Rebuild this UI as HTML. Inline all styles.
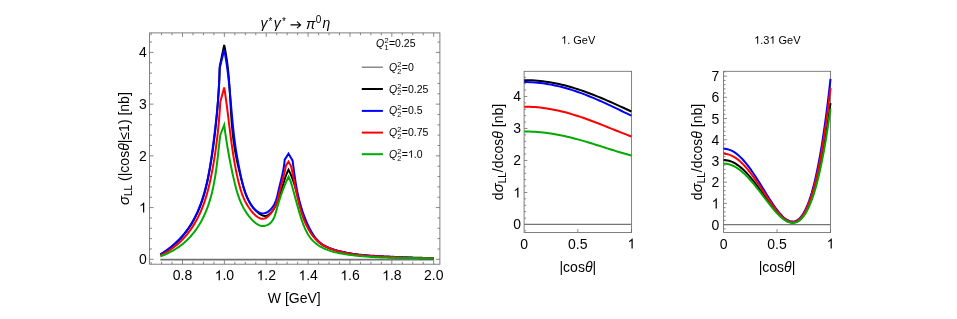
<!DOCTYPE html>
<html><head><meta charset="utf-8"><title>plot</title>
<style>html,body{margin:0;padding:0;background:#fff}body{width:957px;height:319px;overflow:hidden;position:relative;font-family:"Liberation Sans",sans-serif}svg{will-change:transform}</style>
</head><body>
<svg width="957" height="319" viewBox="0 0 957 319" style="position:absolute;left:0;top:0">
<rect width="957" height="319" fill="#fff"/>
<path d="M151.1 264.2L151.1 261.8 M151.1 32.9L151.1 35.3 M161.57 264.2L161.57 261.8 M161.57 32.9L161.57 35.3 M172.03 264.2L172.03 261.8 M172.03 32.9L172.03 35.3 M182.5 264.2L182.5 260.2 M182.5 32.9L182.5 36.9 M192.97 264.2L192.97 261.8 M192.97 32.9L192.97 35.3 M203.43 264.2L203.43 261.8 M203.43 32.9L203.43 35.3 M213.9 264.2L213.9 261.8 M213.9 32.9L213.9 35.3 M224.37 264.2L224.37 260.2 M224.37 32.9L224.37 36.9 M234.83 264.2L234.83 261.8 M234.83 32.9L234.83 35.3 M245.3 264.2L245.3 261.8 M245.3 32.9L245.3 35.3 M255.77 264.2L255.77 261.8 M255.77 32.9L255.77 35.3 M266.23 264.2L266.23 260.2 M266.23 32.9L266.23 36.9 M276.7 264.2L276.7 261.8 M276.7 32.9L276.7 35.3 M287.17 264.2L287.17 261.8 M287.17 32.9L287.17 35.3 M297.63 264.2L297.63 261.8 M297.63 32.9L297.63 35.3 M308.1 264.2L308.1 260.2 M308.1 32.9L308.1 36.9 M318.56 264.2L318.56 261.8 M318.56 32.9L318.56 35.3 M329.03 264.2L329.03 261.8 M329.03 32.9L329.03 35.3 M339.5 264.2L339.5 261.8 M339.5 32.9L339.5 35.3 M349.96 264.2L349.96 260.2 M349.96 32.9L349.96 36.9 M360.43 264.2L360.43 261.8 M360.43 32.9L360.43 35.3 M370.9 264.2L370.9 261.8 M370.9 32.9L370.9 35.3 M381.36 264.2L381.36 261.8 M381.36 32.9L381.36 35.3 M391.83 264.2L391.83 260.2 M391.83 32.9L391.83 36.9 M402.3 264.2L402.3 261.8 M402.3 32.9L402.3 35.3 M412.76 264.2L412.76 261.8 M412.76 32.9L412.76 35.3 M423.23 264.2L423.23 261.8 M423.23 32.9L423.23 35.3 M433.7 264.2L433.7 260.2 M433.7 32.9L433.7 36.9 M149.6 259.3L153.6 259.3 M439.9 259.3L435.9 259.3 M149.6 248.96L152 248.96 M439.9 248.96L437.5 248.96 M149.6 238.61L152 238.61 M439.9 238.61L437.5 238.61 M149.6 228.27L152 228.27 M439.9 228.27L437.5 228.27 M149.6 217.92L152 217.92 M439.9 217.92L437.5 217.92 M149.6 207.58L153.6 207.58 M439.9 207.58L435.9 207.58 M149.6 197.24L152 197.24 M439.9 197.24L437.5 197.24 M149.6 186.89L152 186.89 M439.9 186.89L437.5 186.89 M149.6 176.55L152 176.55 M439.9 176.55L437.5 176.55 M149.6 166.2L152 166.2 M439.9 166.2L437.5 166.2 M149.6 155.86L153.6 155.86 M439.9 155.86L435.9 155.86 M149.6 145.52L152 145.52 M439.9 145.52L437.5 145.52 M149.6 135.17L152 135.17 M439.9 135.17L437.5 135.17 M149.6 124.83L152 124.83 M439.9 124.83L437.5 124.83 M149.6 114.48L152 114.48 M439.9 114.48L437.5 114.48 M149.6 104.14L153.6 104.14 M439.9 104.14L435.9 104.14 M149.6 93.8L152 93.8 M439.9 93.8L437.5 93.8 M149.6 83.45L152 83.45 M439.9 83.45L437.5 83.45 M149.6 73.11L152 73.11 M439.9 73.11L437.5 73.11 M149.6 62.76L152 62.76 M439.9 62.76L437.5 62.76 M149.6 52.42L153.6 52.42 M439.9 52.42L435.9 52.42 M149.6 42.08L152 42.08 M439.9 42.08L437.5 42.08" stroke="#6a6a6a" stroke-width="0.8" fill="none"/>
<g fill="none" stroke-width="2.0" stroke-linejoin="miter" stroke-linecap="butt">
<path d="M160.3 259.6L433.7 259.6" stroke="#707070" stroke-width="1.8"/>
<path d="M160.3 254.6 L161.59 253.82 L162.87 253.02 L164.13 252.2 L165.38 251.36 L166.61 250.51 L167.83 249.64 L169.03 248.75 L170.22 247.85 L171.39 246.92 L172.54 245.98 L173.67 245.02 L174.79 244.04 L175.9 243.04 L176.98 242.03 L178.05 240.99 L179.1 239.94 L180.13 238.87 L181.14 237.78 L182.14 236.67 L183.11 235.55 L184.07 234.4 L185 233.24 L185.92 232.06 L186.82 230.86 L187.7 229.65 L188.56 228.42 L189.4 227.17 L190.23 225.92 L191.03 224.64 L191.82 223.36 L192.58 222.06 L193.33 220.75 L194.06 219.44 L194.77 218.11 L195.46 216.77 L196.14 215.42 L196.79 214.06 L197.43 212.7 L198.05 211.33 L198.65 209.95 L199.23 208.57 L199.79 207.19 L200.34 205.8 L200.86 204.4 L201.37 203 L201.87 201.6 L202.34 200.2 L202.8 198.79 L203.25 197.38 L203.68 195.97 L204.09 194.55 L204.5 193.13 L204.89 191.71 L205.26 190.28 L205.63 188.85 L205.99 187.42 L206.33 185.99 L206.67 184.55 L206.99 183.11 L207.31 181.67 L207.62 180.22 L207.92 178.77 L208.21 177.32 L208.5 175.87 L208.78 174.42 L209.06 172.96 L209.33 171.5 L209.59 170.04 L209.85 168.58 L210.11 167.11 L210.37 165.64 L210.61 164.17 L210.86 162.7 L211.1 161.23 L211.33 159.76 L211.57 158.28 L211.79 156.8 L212.02 155.32 L212.24 153.84 L212.46 152.36 L212.67 150.88 L212.88 149.39 L213.09 147.91 L213.29 146.42 L213.49 144.93 L213.69 143.44 L213.88 141.95 L214.07 140.46 L214.26 138.97 L214.45 137.48 L214.63 135.98 L214.81 134.49 L214.98 132.99 L215.15 131.5 L215.32 130 L215.49 128.5 L215.65 127.01 L215.81 125.51 L215.97 124.01 L216.12 122.51 L216.27 121.02 L216.42 119.52 L216.56 118.02 L216.71 116.52 L216.84 115.02 L216.98 113.52 L217.11 112.03 L217.24 110.53 L217.37 109.03 L217.49 107.53 L217.61 106.04 L217.73 104.54 L217.85 103.05 L217.96 101.55 L218.07 100.06 L218.17 98.56 L218.28 97.07 L218.38 95.58 L218.48 94.09 L218.57 92.6 L218.66 91.11 L218.75 89.62 L218.84 88.13 L218.92 86.65 L219 85.16 L219.08 83.68 L219.16 82.2 L219.23 80.72 L219.3 79.24 L219.36 77.76 L219.43 76.28 L219.49 74.81 L219.55 73.34 L219.6 71.86 L219.66 70.4 L219.71 68.93 L219.75 67.46 L219.8 66 L219.8 66 L224.2 44.9 L224.2 44.9 L224.51 46.39 L224.81 47.87 L225.09 49.36 L225.37 50.84 L225.63 52.33 L225.88 53.82 L226.13 55.31 L226.36 56.79 L226.58 58.28 L226.8 59.77 L227.01 61.26 L227.2 62.75 L227.39 64.24 L227.57 65.73 L227.75 67.21 L227.92 68.7 L228.08 70.19 L228.23 71.68 L228.38 73.17 L228.52 74.66 L228.65 76.15 L228.78 77.64 L228.91 79.13 L229.03 80.63 L229.14 82.12 L229.25 83.61 L229.36 85.1 L229.46 86.59 L229.56 88.08 L229.66 89.57 L229.76 91.06 L229.85 92.55 L229.94 94.04 L230.03 95.53 L230.12 97.02 L230.21 98.51 L230.29 100 L230.38 101.49 L230.46 102.98 L230.55 104.47 L230.64 105.96 L230.72 107.45 L230.81 108.94 L230.9 110.43 L231 111.92 L231.09 113.4 L231.19 114.89 L231.29 116.38 L231.39 117.87 L231.49 119.36 L231.6 120.84 L231.72 122.33 L231.83 123.81 L231.96 125.3 L232.08 126.79 L232.22 128.27 L232.36 129.76 L232.5 131.24 L232.65 132.72 L232.81 134.21 L232.97 135.69 L233.14 137.17 L233.32 138.66 L233.51 140.14 L233.7 141.62 L233.9 143.1 L234.11 144.58 L234.33 146.06 L234.56 147.54 L234.8 149.01 L235.05 150.49 L235.31 151.97 L235.57 153.45 L235.85 154.92 L236.13 156.4 L236.42 157.87 L236.72 159.34 L237.02 160.82 L237.34 162.29 L237.65 163.76 L237.98 165.23 L238.31 166.7 L238.65 168.17 L238.99 169.64 L239.34 171.11 L239.69 172.58 L240.05 174.04 L240.41 175.51 L240.77 176.97 L241.14 178.43 L241.51 179.9 L241.89 181.36 L242.27 182.82 L242.66 184.28 L243.06 185.73 L243.47 187.17 L243.9 188.61 L244.34 190.04 L244.81 191.46 L245.3 192.88 L245.82 194.27 L246.36 195.66 L246.94 197.03 L247.54 198.38 L248.19 199.72 L248.87 201.04 L249.6 202.34 L250.37 203.62 L251.18 204.87 L252.05 206.11 L252.96 207.32 L253.93 208.5 L254.96 209.65 L256.05 210.78 L257.2 211.87 L258.4 212.92 L259.65 213.87 L260.92 214.7 L262.21 215.35 L263.5 215.79 L264.78 215.98 L266.02 215.88 L267.24 215.51 L268.41 214.89 L269.55 214.06 L270.64 213.05 L271.69 211.88 L272.69 210.59 L273.63 209.21 L274.52 207.77 L275.35 206.3 L276.12 204.84 L276.82 203.4 L277.47 201.99 L278.05 200.61 L278.6 199.24 L279.1 197.89 L279.58 196.52 L280.03 195.15 L280.47 193.76 L280.89 192.36 L281.3 190.95 L281.7 189.53 L282.1 188.1 L282.5 186.67 L282.9 185.23 L283.31 183.79 L283.73 182.36 L284.16 180.92 L284.61 179.49 L285.08 178.06 L285.57 176.64 L286.09 175.23 L286.64 173.83 L287.22 172.44 L287.84 171.06 L288.5 169.7 L288.5 169.7 L289.16 171.01 L289.8 172.34 L290.41 173.68 L290.99 175.03 L291.55 176.39 L292.1 177.76 L292.62 179.14 L293.12 180.53 L293.6 181.93 L294.07 183.33 L294.53 184.74 L294.97 186.16 L295.4 187.59 L295.82 189.02 L296.22 190.46 L296.63 191.9 L297.02 193.34 L297.41 194.79 L297.8 196.24 L298.19 197.69 L298.57 199.14 L298.96 200.6 L299.34 202.05 L299.73 203.51 L300.13 204.96 L300.53 206.41 L300.94 207.86 L301.36 209.31 L301.79 210.75 L302.23 212.19 L302.68 213.62 L303.15 215.05 L303.63 216.48 L304.13 217.9 L304.65 219.31 L305.19 220.71 L305.75 222.11 L306.33 223.49 L306.94 224.87 L307.58 226.24 L308.24 227.6 L308.92 228.94 L309.64 230.27 L310.39 231.58 L311.17 232.87 L311.98 234.13 L312.83 235.36 L313.7 236.55 L314.62 237.71 L315.57 238.83 L316.56 239.91 L317.59 240.94 L318.66 241.92 L319.77 242.85 L320.92 243.72 L322.12 244.54 L323.35 245.3 L324.62 246.02 L325.92 246.68 L327.24 247.31 L328.6 247.89 L329.98 248.43 L331.38 248.94 L332.8 249.41 L334.23 249.86 L335.68 250.28 L337.13 250.68 L338.6 251.05 L340.06 251.41 L341.53 251.76 L343 252.09 L344.47 252.41 L345.94 252.71 L347.41 253 L348.89 253.28 L350.36 253.54 L351.84 253.8 L353.31 254.04 L354.79 254.27 L356.27 254.49 L357.75 254.69 L359.23 254.89 L360.71 255.08 L362.19 255.26 L363.67 255.42 L365.16 255.58 L366.64 255.73 L368.12 255.87 L369.61 256 L371.09 256.13 L372.58 256.24 L374.07 256.35 L375.56 256.46 L377.04 256.55 L378.53 256.64 L380.02 256.72 L381.51 256.8 L383 256.87 L384.49 256.94 L385.98 257 L387.47 257.06 L388.96 257.11 L390.45 257.16 L391.95 257.2 L393.44 257.24 L394.93 257.28 L396.42 257.32 L397.91 257.36 L399.41 257.39 L400.9 257.42 L402.39 257.45 L403.88 257.48 L405.38 257.5 L406.87 257.53 L408.36 257.56 L409.86 257.59 L411.35 257.61 L412.84 257.64 L414.33 257.67 L415.82 257.7 L417.32 257.74 L418.81 257.77 L420.3 257.81 L421.79 257.85 L423.28 257.9 L424.77 257.94 L426.26 258 L427.75 258.05 L429.24 258.11 L430.72 258.18 L432.21 258.25 L433.7 258.32" stroke="#000000"/>
<path d="M160.3 254.5 L161.55 253.71 L162.8 252.91 L164.03 252.08 L165.25 251.24 L166.47 250.38 L167.67 249.5 L168.85 248.6 L170.03 247.68 L171.19 246.74 L172.34 245.78 L173.47 244.8 L174.59 243.81 L175.7 242.8 L176.79 241.77 L177.86 240.72 L178.92 239.65 L179.96 238.57 L180.98 237.47 L181.98 236.35 L182.97 235.21 L183.94 234.06 L184.89 232.89 L185.82 231.7 L186.73 230.49 L187.62 229.27 L188.49 228.04 L189.33 226.79 L190.16 225.53 L190.97 224.26 L191.75 222.97 L192.52 221.67 L193.26 220.36 L193.97 219.04 L194.67 217.71 L195.35 216.38 L196.01 215.03 L196.65 213.67 L197.27 212.31 L197.87 210.94 L198.45 209.57 L199.02 208.18 L199.57 206.8 L200.11 205.41 L200.63 204.01 L201.13 202.61 L201.62 201.21 L202.1 199.81 L202.56 198.4 L203.01 196.99 L203.45 195.57 L203.87 194.15 L204.29 192.73 L204.69 191.3 L205.08 189.88 L205.45 188.45 L205.82 187.01 L206.17 185.57 L206.52 184.13 L206.86 182.69 L207.18 181.25 L207.5 179.8 L207.81 178.35 L208.1 176.9 L208.4 175.44 L208.68 173.98 L208.95 172.52 L209.22 171.06 L209.48 169.6 L209.74 168.13 L209.99 166.66 L210.23 165.19 L210.47 163.72 L210.7 162.25 L210.93 160.77 L211.15 159.29 L211.37 157.81 L211.58 156.33 L211.8 154.85 L212 153.37 L212.21 151.88 L212.41 150.4 L212.61 148.91 L212.81 147.42 L213.01 145.93 L213.21 144.44 L213.4 142.94 L213.6 141.45 L213.79 139.96 L213.98 138.46 L214.17 136.97 L214.35 135.47 L214.53 133.97 L214.72 132.47 L214.9 130.98 L215.07 129.48 L215.25 127.98 L215.42 126.48 L215.59 124.98 L215.76 123.48 L215.93 121.98 L216.09 120.48 L216.25 118.98 L216.41 117.48 L216.56 115.98 L216.71 114.48 L216.86 112.98 L217.01 111.48 L217.15 109.98 L217.29 108.48 L217.42 106.98 L217.56 105.48 L217.69 103.99 L217.81 102.49 L217.94 100.99 L218.05 99.5 L218.17 98 L218.28 96.51 L218.39 95.02 L218.49 93.53 L218.59 92.04 L218.69 90.55 L218.78 89.06 L218.87 87.57 L218.95 86.09 L219.03 84.61 L219.11 83.12 L219.18 81.64 L219.24 80.17 L219.3 78.69 L219.36 77.21 L219.41 75.74 L219.46 74.27 L219.5 72.8 L219.54 71.33 L219.57 69.86 L219.6 68.4 L219.6 68.4 L224.2 49.8 L224.2 49.8 L224.49 51.25 L224.76 52.71 L225.03 54.17 L225.29 55.63 L225.55 57.09 L225.79 58.55 L226.03 60.02 L226.26 61.48 L226.49 62.95 L226.71 64.42 L226.92 65.89 L227.13 67.36 L227.33 68.84 L227.52 70.31 L227.71 71.79 L227.9 73.27 L228.08 74.75 L228.25 76.23 L228.42 77.71 L228.59 79.19 L228.75 80.68 L228.91 82.16 L229.07 83.65 L229.22 85.13 L229.37 86.62 L229.51 88.11 L229.66 89.6 L229.8 91.09 L229.94 92.58 L230.07 94.07 L230.21 95.56 L230.34 97.05 L230.47 98.54 L230.61 100.03 L230.74 101.52 L230.87 103.02 L231 104.51 L231.13 106 L231.25 107.49 L231.38 108.99 L231.51 110.48 L231.65 111.97 L231.78 113.46 L231.91 114.96 L232.05 116.45 L232.18 117.94 L232.32 119.43 L232.46 120.92 L232.6 122.41 L232.75 123.9 L232.89 125.39 L233.05 126.88 L233.2 128.36 L233.36 129.85 L233.52 131.34 L233.68 132.82 L233.85 134.31 L234.03 135.79 L234.2 137.27 L234.39 138.75 L234.57 140.23 L234.77 141.71 L234.97 143.19 L235.17 144.67 L235.38 146.14 L235.6 147.61 L235.82 149.09 L236.05 150.56 L236.28 152.03 L236.52 153.49 L236.77 154.96 L237.02 156.42 L237.28 157.88 L237.54 159.35 L237.8 160.8 L238.07 162.26 L238.35 163.72 L238.63 165.17 L238.91 166.62 L239.2 168.07 L239.49 169.51 L239.78 170.96 L240.08 172.4 L240.37 173.84 L240.68 175.27 L240.99 176.71 L241.3 178.14 L241.63 179.58 L241.96 181.01 L242.32 182.45 L242.68 183.88 L243.07 185.32 L243.47 186.76 L243.9 188.21 L244.35 189.65 L244.83 191.1 L245.33 192.56 L245.87 194.02 L246.43 195.49 L247.03 196.96 L247.67 198.43 L248.34 199.89 L249.06 201.33 L249.81 202.73 L250.61 204.1 L251.46 205.41 L252.35 206.66 L253.3 207.84 L254.29 208.95 L255.34 209.95 L256.45 210.86 L257.62 211.66 L258.84 212.34 L260.1 212.86 L261.4 213.22 L262.72 213.38 L264.04 213.33 L265.36 213.04 L266.65 212.51 L267.91 211.79 L269.13 210.89 L270.28 209.84 L271.36 208.68 L272.36 207.43 L273.26 206.12 L274.05 204.78 L274.76 203.4 L275.38 201.99 L275.92 200.56 L276.41 199.11 L276.84 197.65 L277.23 196.17 L277.59 194.69 L277.93 193.21 L278.26 191.73 L278.59 190.26 L278.93 188.8 L279.27 187.35 L279.62 185.9 L279.97 184.46 L280.32 183.03 L280.67 181.6 L281.02 180.17 L281.37 178.74 L281.71 177.32 L282.04 175.89 L282.36 174.46 L282.67 173.02 L282.97 171.58 L283.25 170.13 L283.52 168.68 L283.77 167.21 L284 165.74 L284.21 164.25 L284.4 162.75 L284.56 161.23 L284.7 159.7 L284.7 159.7 L288.5 153.6 L292.6 160.7 L292.6 160.7 L292.8 162.2 L293 163.7 L293.19 165.2 L293.39 166.69 L293.58 168.17 L293.78 169.65 L293.98 171.13 L294.18 172.61 L294.39 174.08 L294.6 175.55 L294.81 177.01 L295.02 178.48 L295.25 179.93 L295.47 181.39 L295.71 182.85 L295.95 184.3 L296.2 185.75 L296.45 187.2 L296.72 188.65 L296.99 190.09 L297.28 191.54 L297.57 192.98 L297.88 194.43 L298.19 195.87 L298.52 197.31 L298.87 198.75 L299.22 200.19 L299.59 201.64 L299.98 203.08 L300.38 204.52 L300.79 205.96 L301.22 207.4 L301.67 208.84 L302.13 210.28 L302.61 211.71 L303.1 213.14 L303.61 214.56 L304.13 215.98 L304.67 217.4 L305.23 218.81 L305.81 220.21 L306.4 221.61 L307.01 222.99 L307.63 224.37 L308.27 225.74 L308.93 227.1 L309.61 228.45 L310.31 229.78 L311.03 231.09 L311.78 232.38 L312.55 233.65 L313.35 234.89 L314.19 236.1 L315.06 237.27 L315.96 238.4 L316.91 239.5 L317.89 240.54 L318.92 241.54 L319.99 242.49 L321.11 243.38 L322.28 244.22 L323.49 245.01 L324.74 245.75 L326.03 246.44 L327.35 247.09 L328.7 247.69 L330.07 248.26 L331.47 248.79 L332.89 249.29 L334.32 249.75 L335.77 250.19 L337.23 250.6 L338.7 250.99 L340.17 251.35 L341.64 251.7 L343.11 252.03 L344.58 252.34 L346.06 252.63 L347.53 252.91 L349 253.17 L350.48 253.42 L351.96 253.65 L353.43 253.87 L354.91 254.08 L356.39 254.27 L357.87 254.45 L359.35 254.62 L360.83 254.78 L362.31 254.93 L363.79 255.07 L365.27 255.2 L366.75 255.33 L368.24 255.44 L369.72 255.55 L371.2 255.65 L372.69 255.75 L374.17 255.84 L375.66 255.92 L377.14 256.01 L378.63 256.09 L380.12 256.16 L381.6 256.24 L383.09 256.31 L384.58 256.39 L386.06 256.46 L387.55 256.53 L389.04 256.61 L390.53 256.68 L392.02 256.76 L393.51 256.84 L394.99 256.92 L396.48 257 L397.97 257.09 L399.46 257.17 L400.95 257.25 L402.44 257.33 L403.93 257.41 L405.42 257.49 L406.91 257.57 L408.4 257.65 L409.89 257.72 L411.38 257.8 L412.87 257.87 L414.36 257.93 L415.85 257.99 L417.33 258.05 L418.82 258.11 L420.31 258.15 L421.8 258.2 L423.29 258.24 L424.78 258.27 L426.27 258.29 L427.75 258.31 L429.24 258.33 L430.73 258.33 L432.21 258.33 L433.7 258.32" stroke="#0000ff"/>
<path d="M160.3 255.4 L161.67 254.74 L163.03 254.06 L164.37 253.35 L165.69 252.61 L166.99 251.85 L168.27 251.06 L169.54 250.25 L170.79 249.41 L172.01 248.55 L173.22 247.67 L174.41 246.76 L175.58 245.83 L176.73 244.88 L177.85 243.91 L178.96 242.92 L180.05 241.9 L181.12 240.87 L182.17 239.82 L183.19 238.75 L184.2 237.66 L185.18 236.56 L186.14 235.43 L187.09 234.29 L188.01 233.14 L188.91 231.97 L189.79 230.78 L190.66 229.58 L191.5 228.37 L192.32 227.14 L193.12 225.9 L193.91 224.65 L194.67 223.39 L195.41 222.11 L196.14 220.82 L196.85 219.53 L197.54 218.22 L198.21 216.9 L198.86 215.58 L199.49 214.25 L200.11 212.91 L200.71 211.56 L201.29 210.2 L201.85 208.84 L202.4 207.47 L202.93 206.1 L203.45 204.72 L203.95 203.33 L204.44 201.94 L204.91 200.54 L205.37 199.14 L205.81 197.73 L206.24 196.31 L206.66 194.89 L207.07 193.46 L207.47 192.03 L207.85 190.6 L208.23 189.16 L208.59 187.72 L208.95 186.27 L209.29 184.82 L209.63 183.36 L209.96 181.9 L210.28 180.44 L210.59 178.97 L210.9 177.5 L211.2 176.03 L211.5 174.55 L211.79 173.07 L212.07 171.59 L212.35 170.11 L212.63 168.62 L212.89 167.13 L213.16 165.64 L213.42 164.15 L213.67 162.66 L213.92 161.16 L214.17 159.67 L214.41 158.17 L214.64 156.67 L214.87 155.17 L215.1 153.67 L215.32 152.17 L215.54 150.67 L215.75 149.17 L215.96 147.67 L216.16 146.17 L216.36 144.67 L216.55 143.17 L216.74 141.67 L216.93 140.17 L217.11 138.67 L217.29 137.18 L217.46 135.68 L217.63 134.19 L217.79 132.69 L217.95 131.2 L218.1 129.72 L218.25 128.23 L218.4 126.74 L218.54 125.26 L218.68 123.78 L218.82 122.31 L218.95 120.83 L219.08 119.36 L219.2 117.89 L219.32 116.43 L219.43 114.97 L219.54 113.51 L219.65 112.06 L219.75 110.61 L219.85 109.16 L219.95 107.72 L220.04 106.28 L220.13 104.85 L220.22 103.42 L220.3 102 L220.3 102 L224.2 87.5 L224.44 88.97 L224.67 90.45 L224.89 91.92 L225.11 93.4 L225.33 94.88 L225.54 96.36 L225.76 97.83 L225.96 99.31 L226.17 100.79 L226.37 102.27 L226.56 103.76 L226.76 105.24 L226.95 106.72 L227.14 108.2 L227.33 109.68 L227.52 111.17 L227.71 112.65 L227.89 114.13 L228.07 115.62 L228.26 117.1 L228.44 118.58 L228.62 120.07 L228.8 121.55 L228.98 123.03 L229.16 124.52 L229.34 126 L229.53 127.49 L229.71 128.97 L229.89 130.45 L230.08 131.94 L230.26 133.42 L230.45 134.9 L230.64 136.38 L230.83 137.87 L231.03 139.35 L231.22 140.83 L231.42 142.31 L231.62 143.79 L231.83 145.27 L232.04 146.75 L232.25 148.23 L232.46 149.7 L232.68 151.18 L232.91 152.66 L233.13 154.13 L233.36 155.61 L233.6 157.08 L233.84 158.55 L234.09 160.03 L234.34 161.5 L234.6 162.97 L234.86 164.43 L235.13 165.9 L235.41 167.37 L235.69 168.83 L235.97 170.3 L236.27 171.76 L236.57 173.22 L236.88 174.68 L237.2 176.14 L237.52 177.6 L237.85 179.06 L238.19 180.51 L238.54 181.96 L238.9 183.41 L239.27 184.86 L239.66 186.3 L240.06 187.74 L240.48 189.17 L240.92 190.6 L241.39 192.02 L241.87 193.43 L242.39 194.84 L242.93 196.23 L243.5 197.62 L244.1 198.99 L244.73 200.36 L245.4 201.71 L246.11 203.05 L246.85 204.38 L247.64 205.69 L248.46 206.99 L249.34 208.27 L250.25 209.53 L251.22 210.78 L252.24 212.01 L253.3 213.22 L254.41 214.37 L255.55 215.44 L256.73 216.41 L257.92 217.25 L259.14 217.93 L260.37 218.44 L261.6 218.74 L262.83 218.81 L264.05 218.63 L265.26 218.21 L266.45 217.58 L267.62 216.76 L268.75 215.77 L269.84 214.63 L270.89 213.37 L271.89 212.02 L272.83 210.59 L273.71 209.11 L274.52 207.6 L275.25 206.09 L275.91 204.59 L276.49 203.1 L277.02 201.62 L277.49 200.14 L277.92 198.68 L278.32 197.22 L278.68 195.77 L279.03 194.33 L279.36 192.89 L279.69 191.46 L280.03 190.03 L280.37 188.6 L280.73 187.17 L281.09 185.75 L281.45 184.33 L281.82 182.91 L282.19 181.48 L282.56 180.06 L282.93 178.63 L283.3 177.2 L283.67 175.76 L284.03 174.32 L284.38 172.87 L284.73 171.41 L285.06 169.95 L285.39 168.48 L285.7 166.99 L286 165.5 L286 165.5 L288.5 161.6 L291 166 L291 166 L291.34 167.4 L291.67 168.81 L291.98 170.23 L292.29 171.66 L292.6 173.09 L292.89 174.53 L293.19 175.98 L293.47 177.43 L293.76 178.89 L294.04 180.36 L294.32 181.82 L294.6 183.3 L294.88 184.77 L295.17 186.25 L295.46 187.73 L295.75 189.21 L296.05 190.69 L296.35 192.18 L296.67 193.66 L296.98 195.14 L297.31 196.62 L297.64 198.1 L297.98 199.58 L298.33 201.06 L298.69 202.53 L299.05 204 L299.43 205.46 L299.82 206.92 L300.22 208.38 L300.63 209.82 L301.06 211.27 L301.51 212.7 L301.97 214.13 L302.45 215.55 L302.95 216.96 L303.46 218.36 L304 219.76 L304.57 221.14 L305.15 222.51 L305.77 223.87 L306.4 225.22 L307.07 226.56 L307.76 227.89 L308.48 229.2 L309.23 230.49 L310.01 231.76 L310.83 233.01 L311.67 234.23 L312.55 235.42 L313.46 236.58 L314.4 237.71 L315.38 238.8 L316.4 239.85 L317.45 240.87 L318.54 241.83 L319.67 242.75 L320.84 243.62 L322.05 244.44 L323.29 245.22 L324.56 245.95 L325.86 246.63 L327.2 247.28 L328.55 247.88 L329.93 248.45 L331.33 248.99 L332.75 249.49 L334.18 249.97 L335.62 250.41 L337.07 250.83 L338.53 251.23 L339.99 251.6 L341.46 251.96 L342.93 252.3 L344.39 252.62 L345.86 252.92 L347.33 253.2 L348.81 253.47 L350.28 253.72 L351.75 253.96 L353.23 254.19 L354.71 254.4 L356.19 254.59 L357.67 254.78 L359.15 254.95 L360.63 255.11 L362.11 255.26 L363.6 255.41 L365.08 255.54 L366.57 255.66 L368.06 255.77 L369.54 255.88 L371.03 255.98 L372.52 256.08 L374.01 256.16 L375.5 256.25 L376.99 256.33 L378.48 256.4 L379.98 256.47 L381.47 256.54 L382.96 256.61 L384.45 256.67 L385.95 256.74 L387.44 256.8 L388.94 256.87 L390.43 256.93 L391.93 257 L393.42 257.07 L394.92 257.13 L396.41 257.2 L397.91 257.27 L399.4 257.34 L400.9 257.41 L402.39 257.48 L403.89 257.55 L405.38 257.62 L406.88 257.68 L408.37 257.75 L409.87 257.81 L411.36 257.87 L412.85 257.93 L414.35 257.98 L415.84 258.03 L417.33 258.08 L418.82 258.13 L420.31 258.17 L421.81 258.2 L423.29 258.24 L424.78 258.27 L426.27 258.29 L427.76 258.31 L429.25 258.32 L430.73 258.33 L432.22 258.33 L433.7 258.32" stroke="#ff0000"/>
<path d="M160.3 256.4 L161.72 255.86 L163.12 255.3 L164.52 254.71 L165.9 254.11 L167.27 253.49 L168.62 252.84 L169.96 252.17 L171.29 251.48 L172.59 250.76 L173.89 250.02 L175.16 249.26 L176.42 248.48 L177.66 247.67 L178.88 246.83 L180.08 245.97 L181.27 245.09 L182.43 244.17 L183.57 243.24 L184.69 242.27 L185.79 241.28 L186.87 240.27 L187.92 239.24 L188.96 238.18 L189.97 237.1 L190.96 235.99 L191.93 234.87 L192.88 233.73 L193.81 232.57 L194.71 231.4 L195.59 230.2 L196.45 228.99 L197.29 227.77 L198.11 226.53 L198.9 225.28 L199.67 224.02 L200.42 222.74 L201.15 221.46 L201.85 220.16 L202.53 218.86 L203.19 217.54 L203.84 216.21 L204.46 214.88 L205.06 213.53 L205.64 212.18 L206.2 210.82 L206.75 209.45 L207.28 208.07 L207.79 206.68 L208.28 205.29 L208.76 203.89 L209.22 202.48 L209.66 201.06 L210.09 199.64 L210.5 198.21 L210.9 196.78 L211.29 195.34 L211.66 193.89 L212.02 192.44 L212.36 190.99 L212.7 189.53 L213.02 188.07 L213.33 186.6 L213.63 185.13 L213.92 183.65 L214.2 182.18 L214.46 180.69 L214.72 179.21 L214.97 177.73 L215.22 176.24 L215.45 174.75 L215.68 173.26 L215.89 171.77 L216.11 170.27 L216.31 168.78 L216.51 167.29 L216.71 165.79 L216.9 164.3 L217.08 162.81 L217.26 161.32 L217.44 159.82 L217.61 158.33 L217.79 156.85 L217.95 155.36 L218.12 153.88 L218.29 152.39 L218.45 150.91 L218.61 149.44 L218.78 147.96 L218.94 146.5 L219.1 145.03 L219.27 143.57 L219.43 142.11 L219.6 140.66 L219.77 139.21 L219.94 137.77 L220.12 136.33 L220.3 134.9 L220.3 134.9 L224.2 125 L224.2 125 L224.39 126.41 L224.58 127.83 L224.77 129.25 L224.97 130.68 L225.17 132.12 L225.38 133.57 L225.59 135.02 L225.81 136.47 L226.03 137.93 L226.25 139.4 L226.48 140.87 L226.72 142.35 L226.95 143.82 L227.2 145.31 L227.44 146.79 L227.69 148.28 L227.95 149.77 L228.21 151.26 L228.47 152.76 L228.73 154.25 L229.01 155.75 L229.28 157.25 L229.56 158.75 L229.84 160.25 L230.13 161.74 L230.42 163.24 L230.72 164.74 L231.02 166.23 L231.32 167.73 L231.63 169.22 L231.94 170.71 L232.26 172.2 L232.58 173.68 L232.9 175.16 L233.23 176.64 L233.56 178.11 L233.9 179.58 L234.24 181.04 L234.59 182.5 L234.94 183.95 L235.3 185.4 L235.67 186.84 L236.04 188.27 L236.44 189.7 L236.84 191.12 L237.26 192.53 L237.7 193.94 L238.15 195.33 L238.62 196.72 L239.12 198.1 L239.63 199.47 L240.17 200.83 L240.74 202.18 L241.33 203.52 L241.95 204.85 L242.6 206.17 L243.28 207.48 L243.99 208.77 L244.74 210.05 L245.52 211.33 L246.34 212.58 L247.19 213.83 L248.09 215.06 L249.02 216.28 L250 217.48 L251.03 218.67 L252.09 219.85 L253.21 220.99 L254.36 222.07 L255.56 223.07 L256.79 223.97 L258.07 224.74 L259.38 225.35 L260.72 225.79 L262.1 226.03 L263.5 226.04 L264.92 225.84 L266.33 225.43 L267.69 224.83 L268.99 224.06 L270.19 223.15 L271.27 222.1 L272.21 220.93 L273.03 219.66 L273.75 218.31 L274.37 216.89 L274.91 215.43 L275.4 213.92 L275.85 212.4 L276.28 210.87 L276.69 209.35 L277.11 207.85 L277.53 206.38 L277.95 204.92 L278.38 203.47 L278.81 202.04 L279.25 200.62 L279.7 199.22 L280.15 197.82 L280.61 196.43 L281.08 195.05 L281.55 193.67 L282.04 192.29 L282.54 190.92 L283.05 189.54 L283.57 188.17 L284.11 186.79 L284.66 185.4 L285.22 184.01 L285.8 182.61 L286.4 181.2 L286.4 181.2 L288.6 176.8 L290.8 181.7 L290.8 181.7 L291.22 183.16 L291.64 184.61 L292.04 186.05 L292.45 187.49 L292.84 188.92 L293.24 190.35 L293.62 191.77 L294.01 193.19 L294.39 194.6 L294.78 196.01 L295.16 197.42 L295.54 198.84 L295.92 200.25 L296.31 201.66 L296.69 203.08 L297.08 204.49 L297.48 205.91 L297.87 207.34 L298.28 208.77 L298.69 210.21 L299.11 211.66 L299.53 213.11 L299.97 214.57 L300.41 216.03 L300.87 217.5 L301.35 218.96 L301.84 220.43 L302.35 221.89 L302.88 223.34 L303.44 224.79 L304.02 226.23 L304.62 227.66 L305.26 229.08 L305.92 230.48 L306.62 231.85 L307.35 233.19 L308.11 234.5 L308.91 235.77 L309.76 237 L310.64 238.18 L311.57 239.31 L312.54 240.38 L313.55 241.4 L314.6 242.37 L315.69 243.29 L316.82 244.17 L317.97 245 L319.17 245.78 L320.39 246.52 L321.64 247.22 L322.92 247.88 L324.22 248.5 L325.55 249.08 L326.9 249.63 L328.27 250.15 L329.66 250.63 L331.07 251.09 L332.49 251.51 L333.92 251.91 L335.37 252.28 L336.83 252.63 L338.3 252.95 L339.78 253.26 L341.26 253.54 L342.75 253.81 L344.25 254.06 L345.75 254.29 L347.25 254.52 L348.76 254.73 L350.26 254.93 L351.76 255.12 L353.26 255.3 L354.76 255.48 L356.26 255.65 L357.76 255.81 L359.25 255.96 L360.75 256.1 L362.24 256.24 L363.73 256.37 L365.23 256.49 L366.72 256.61 L368.21 256.72 L369.7 256.82 L371.18 256.92 L372.67 257.01 L374.16 257.1 L375.65 257.18 L377.13 257.26 L378.62 257.33 L380.1 257.39 L381.59 257.46 L383.07 257.51 L384.56 257.57 L386.04 257.62 L387.52 257.66 L389.01 257.71 L390.49 257.75 L391.97 257.78 L393.46 257.82 L394.94 257.85 L396.42 257.88 L397.91 257.91 L399.39 257.93 L400.88 257.96 L402.36 257.98 L403.85 258 L405.33 258.02 L406.82 258.04 L408.3 258.06 L409.79 258.08 L411.28 258.1 L412.77 258.11 L414.26 258.13 L415.74 258.15 L417.24 258.17 L418.73 258.19 L420.22 258.21 L421.71 258.24 L423.21 258.26 L424.7 258.29 L426.2 258.32 L427.7 258.35 L429.2 258.38 L430.7 258.42 L432.2 258.46 L433.7 258.5" stroke="#00aa00"/>
</g>
<rect x="149.6" y="32.9" width="290.3" height="231.3" fill="none" stroke="#6a6a6a" stroke-width="0.85"/>
<text x="172.77" y="280.3" font-size="14" text-anchor="start" style="font-family:'Liberation Sans',sans-serif;fill:#000" >0.8</text>
<path d="M219.85 280.3L218.62 280.3L218.62 272.46Q218.18 272.88 217.46 273.31Q216.73 273.73 216.16 273.94L216.16 272.75Q217.19 272.27 217.97 271.58Q218.74 270.89 219.06 270.24L219.85 270.24Z" fill="#000"/>
<text x="222.42" y="280.3" font-size="14" text-anchor="start" style="font-family:'Liberation Sans',sans-serif;fill:#000" >.0</text>
<path d="M261.72 280.3L260.49 280.3L260.49 272.46Q260.04 272.88 259.32 273.31Q258.6 273.73 258.03 273.94L258.03 272.75Q259.06 272.27 259.83 271.58Q260.6 270.89 260.92 270.24L261.72 270.24Z" fill="#000"/>
<text x="264.29" y="280.3" font-size="14" text-anchor="start" style="font-family:'Liberation Sans',sans-serif;fill:#000" >.2</text>
<path d="M303.58 280.3L302.35 280.3L302.35 272.46Q301.91 272.88 301.19 273.31Q300.47 273.73 299.89 273.94L299.89 272.75Q300.92 272.27 301.7 271.58Q302.47 270.89 302.79 270.24L303.58 270.24Z" fill="#000"/>
<text x="306.15" y="280.3" font-size="14" text-anchor="start" style="font-family:'Liberation Sans',sans-serif;fill:#000" >.4</text>
<path d="M345.45 280.3L344.22 280.3L344.22 272.46Q343.78 272.88 343.05 273.31Q342.33 273.73 341.76 273.94L341.76 272.75Q342.79 272.27 343.56 271.58Q344.34 270.89 344.66 270.24L345.45 270.24Z" fill="#000"/>
<text x="348.02" y="280.3" font-size="14" text-anchor="start" style="font-family:'Liberation Sans',sans-serif;fill:#000" >.6</text>
<path d="M387.32 280.3L386.09 280.3L386.09 272.46Q385.64 272.88 384.92 273.31Q384.2 273.73 383.62 273.94L383.62 272.75Q384.66 272.27 385.43 271.58Q386.2 270.89 386.52 270.24L387.32 270.24Z" fill="#000"/>
<text x="389.88" y="280.3" font-size="14" text-anchor="start" style="font-family:'Liberation Sans',sans-serif;fill:#000" >.8</text>
<text x="423.97" y="280.3" font-size="14" text-anchor="start" style="font-family:'Liberation Sans',sans-serif;fill:#000" >2.0</text>
<text x="139.02" y="264.3" font-size="14" text-anchor="start" style="font-family:'Liberation Sans',sans-serif;fill:#000" >0</text>
<path d="M144.23 212.58L143 212.58L143 204.74Q142.56 205.16 141.84 205.59Q141.11 206.01 140.54 206.22L140.54 205.03Q141.57 204.55 142.35 203.86Q143.12 203.17 143.44 202.52L144.23 202.52Z" fill="#000"/>
<text x="139.02" y="160.86" font-size="14" text-anchor="start" style="font-family:'Liberation Sans',sans-serif;fill:#000" >2</text>
<text x="139.02" y="109.14" font-size="14" text-anchor="start" style="font-family:'Liberation Sans',sans-serif;fill:#000" >3</text>
<text x="139.02" y="57.42" font-size="14" text-anchor="start" style="font-family:'Liberation Sans',sans-serif;fill:#000" >4</text>
<text x="294.3" y="302.6" font-size="14" text-anchor="middle" style="font-family:'Liberation Sans',sans-serif;fill:#000" >W [GeV]</text>
<text x="260.4" y="28.4" font-size="14" text-anchor="start" style="font-family:'Liberation Sans',sans-serif;fill:#000" font-style="italic" font-size="13.8">γ</text>
<text x="268.6" y="24.8" font-size="10" text-anchor="start" style="font-family:'Liberation Sans',sans-serif;fill:#000" >*</text>
<text x="273.7" y="28.4" font-size="14" text-anchor="start" style="font-family:'Liberation Sans',sans-serif;fill:#000" font-style="italic" font-size="13.8">γ</text>
<text x="281.9" y="24.8" font-size="10" text-anchor="start" style="font-family:'Liberation Sans',sans-serif;fill:#000" >*</text>
<path d="M290.5 24.9H300.4M297.0 21.7L300.6 24.9L297.0 28.1" fill="none" stroke="#000" stroke-width="1.1" stroke-linejoin="miter"/>
<text x="306" y="28.6" font-size="14" text-anchor="start" style="font-family:'Liberation Sans',sans-serif;fill:#000" font-style="italic" font-size="14.5">π</text>
<text x="315.8" y="23.1" font-size="10" text-anchor="start" style="font-family:'Liberation Sans',sans-serif;fill:#000" >0</text>
<text x="322.6" y="28.4" font-size="14" text-anchor="start" style="font-family:'Liberation Sans',sans-serif;fill:#000" font-style="italic" font-size="13.8">η</text>
<text transform="translate(128.7 148.6) rotate(-90)" font-size="14" text-anchor="middle" style="font-family:'Liberation Sans',sans-serif;fill:#000"><tspan font-style="italic" font-size="15">σ</tspan><tspan font-size="10" dy="3">LL</tspan><tspan dy="-3"> (|cos</tspan><tspan font-style="italic">θ</tspan>|≤1) [nb]</text>
<text x="376" y="46.9" font-size="10.5" text-anchor="start" style="font-family:'Liberation Sans',sans-serif;fill:#000" ><tspan font-style="italic">Q</tspan><tspan font-size="7.3" dy="2.9" dx="0.3">1</tspan><tspan font-size="7.3" dy="-6.9" dx="-4.06">2</tspan><tspan dy="4" dx="0.4">=0.25</tspan></text>
<path d="M361.8 67.2L382.9 67.2" stroke="#767676" stroke-width="1.3"/>
<text x="388.9" y="70.7" font-size="10.5" text-anchor="start" style="font-family:'Liberation Sans',sans-serif;fill:#000" ><tspan font-style="italic">Q</tspan><tspan font-size="7.3" dy="2.9" dx="0.3">2</tspan><tspan font-size="7.3" dy="-6.9" dx="-4.06">2</tspan><tspan dy="4" dx="0.4">=</tspan></text>
<text x="407.96" y="70.7" font-size="10.5" text-anchor="start" style="font-family:'Liberation Sans',sans-serif;fill:#000" >0</text>
<path d="M361.8 89L382.9 89" stroke="#000000" stroke-width="2.0"/>
<text x="388.9" y="92.5" font-size="10.5" text-anchor="start" style="font-family:'Liberation Sans',sans-serif;fill:#000" ><tspan font-style="italic">Q</tspan><tspan font-size="7.3" dy="2.9" dx="0.3">2</tspan><tspan font-size="7.3" dy="-6.9" dx="-4.06">2</tspan><tspan dy="4" dx="0.4">=</tspan></text>
<text x="407.96" y="92.5" font-size="10.5" text-anchor="start" style="font-family:'Liberation Sans',sans-serif;fill:#000" >0.25</text>
<path d="M361.8 110.9L382.9 110.9" stroke="#0000ff" stroke-width="2.0"/>
<text x="388.9" y="114.4" font-size="10.5" text-anchor="start" style="font-family:'Liberation Sans',sans-serif;fill:#000" ><tspan font-style="italic">Q</tspan><tspan font-size="7.3" dy="2.9" dx="0.3">2</tspan><tspan font-size="7.3" dy="-6.9" dx="-4.06">2</tspan><tspan dy="4" dx="0.4">=</tspan></text>
<text x="407.96" y="114.4" font-size="10.5" text-anchor="start" style="font-family:'Liberation Sans',sans-serif;fill:#000" >0.5</text>
<path d="M361.8 132.6L382.9 132.6" stroke="#ff0000" stroke-width="2.0"/>
<text x="388.9" y="136.1" font-size="10.5" text-anchor="start" style="font-family:'Liberation Sans',sans-serif;fill:#000" ><tspan font-style="italic">Q</tspan><tspan font-size="7.3" dy="2.9" dx="0.3">2</tspan><tspan font-size="7.3" dy="-6.9" dx="-4.06">2</tspan><tspan dy="4" dx="0.4">=</tspan></text>
<text x="407.96" y="136.1" font-size="10.5" text-anchor="start" style="font-family:'Liberation Sans',sans-serif;fill:#000" >0.75</text>
<path d="M361.8 154.2L382.9 154.2" stroke="#00aa00" stroke-width="2.0"/>
<text x="388.9" y="157.7" font-size="10.5" text-anchor="start" style="font-family:'Liberation Sans',sans-serif;fill:#000" ><tspan font-style="italic">Q</tspan><tspan font-size="7.3" dy="2.9" dx="0.3">2</tspan><tspan font-size="7.3" dy="-6.9" dx="-4.06">2</tspan><tspan dy="4" dx="0.4">=</tspan></text>
<path d="M411.87 157.7L410.95 157.7L410.95 151.82Q410.62 152.14 410.07 152.46Q409.53 152.77 409.1 152.93L409.1 152.04Q409.88 151.68 410.46 151.16Q411.04 150.64 411.28 150.15L411.87 150.15Z" fill="#000"/>
<text x="413.8" y="157.7" font-size="10.5" text-anchor="start" style="font-family:'Liberation Sans',sans-serif;fill:#000" >.0</text>
<path d="M524.1 230.85L526.1 230.85 M524.1 224.45L527.4 224.45 M524.1 218.05L526.1 218.05 M524.1 211.65L526.1 211.65 M524.1 205.25L526.1 205.25 M524.1 198.85L526.1 198.85 M524.1 192.45L527.4 192.45 M524.1 186.05L526.1 186.05 M524.1 179.65L526.1 179.65 M524.1 173.25L526.1 173.25 M524.1 166.85L526.1 166.85 M524.1 160.45L527.4 160.45 M524.1 154.05L526.1 154.05 M524.1 147.65L526.1 147.65 M524.1 141.25L526.1 141.25 M524.1 134.85L526.1 134.85 M524.1 128.45L527.4 128.45 M524.1 122.05L526.1 122.05 M524.1 115.65L526.1 115.65 M524.1 109.25L526.1 109.25 M524.1 102.85L526.1 102.85 M524.1 96.45L527.4 96.45 M524.1 90.05L526.1 90.05 M524.1 83.65L526.1 83.65 M524.1 77.25L526.1 77.25 M577.8 232.45L577.8 229.15 M631.4 232.45L631.4 229.15" stroke="#6a6a6a" stroke-width="0.8" fill="none"/>
<rect x="524.1" y="71.3" width="107.5" height="161.15" fill="none" stroke="#6a6a6a" stroke-width="0.85"/>
<g fill="none" stroke-width="2.0">
<path d="M524.2 224.45L631.4 224.45" stroke="#767676" stroke-width="1.3"/>
<path d="M524.2 80.13 L526.88 80.15 L529.56 80.22 L532.24 80.34 L534.92 80.51 L537.6 80.72 L540.28 80.98 L542.96 81.29 L545.64 81.64 L548.32 82.04 L551 82.48 L553.68 82.97 L556.36 83.5 L559.04 84.07 L561.72 84.69 L564.4 85.34 L567.08 86.04 L569.76 86.78 L572.44 87.56 L575.12 88.37 L577.8 89.22 L580.48 90.1 L583.16 91.02 L585.84 91.97 L588.52 92.95 L591.2 93.96 L593.88 95 L596.56 96.07 L599.24 97.16 L601.92 98.27 L604.6 99.41 L607.28 100.56 L609.96 101.73 L612.64 102.92 L615.32 104.12 L618 105.33 L620.68 106.56 L623.36 107.78 L626.04 109.02 L628.72 110.25 L631.4 111.49" stroke="#000000"/>
<path d="M524.2 82.05 L526.88 82.08 L529.56 82.15 L532.24 82.28 L534.92 82.47 L537.6 82.7 L540.28 82.98 L542.96 83.32 L545.64 83.7 L548.32 84.14 L551 84.62 L553.68 85.15 L556.36 85.73 L559.04 86.35 L561.72 87.03 L564.4 87.74 L567.08 88.5 L569.76 89.3 L572.44 90.15 L575.12 91.03 L577.8 91.95 L580.48 92.91 L583.16 93.9 L585.84 94.93 L588.52 95.99 L591.2 97.08 L593.88 98.2 L596.56 99.34 L599.24 100.51 L601.92 101.7 L604.6 102.92 L607.28 104.15 L609.96 105.39 L612.64 106.65 L615.32 107.92 L618 109.2 L620.68 110.49 L623.36 111.78 L626.04 113.07 L628.72 114.36 L631.4 115.64" stroke="#0000ff"/>
<path d="M524.2 106.69 L526.88 106.71 L529.56 106.79 L532.24 106.91 L534.92 107.09 L537.6 107.31 L540.28 107.58 L542.96 107.9 L545.64 108.27 L548.32 108.68 L551 109.14 L553.68 109.65 L556.36 110.19 L559.04 110.79 L561.72 111.42 L564.4 112.09 L567.08 112.81 L569.76 113.56 L572.44 114.34 L575.12 115.17 L577.8 116.02 L580.48 116.91 L583.16 117.82 L585.84 118.76 L588.52 119.73 L591.2 120.72 L593.88 121.72 L596.56 122.75 L599.24 123.79 L601.92 124.85 L604.6 125.91 L607.28 126.99 L609.96 128.06 L612.64 129.14 L615.32 130.22 L618 131.29 L620.68 132.35 L623.36 133.41 L626.04 134.44 L628.72 135.46 L631.4 136.46" stroke="#ff0000"/>
<path d="M524.2 131.49 L526.88 131.51 L529.56 131.58 L532.24 131.68 L534.92 131.83 L537.6 132.02 L540.28 132.25 L542.96 132.52 L545.64 132.84 L548.32 133.19 L551 133.58 L553.68 134.01 L556.36 134.48 L559.04 134.98 L561.72 135.51 L564.4 136.08 L567.08 136.69 L569.76 137.32 L572.44 137.98 L575.12 138.67 L577.8 139.38 L580.48 140.12 L583.16 140.88 L585.84 141.66 L588.52 142.46 L591.2 143.27 L593.88 144.1 L596.56 144.93 L599.24 145.78 L601.92 146.63 L604.6 147.48 L607.28 148.33 L609.96 149.19 L612.64 150.03 L615.32 150.87 L618 151.69 L620.68 152.5 L623.36 153.29 L626.04 154.06 L628.72 154.81 L631.4 155.52" stroke="#00aa00"/>
</g>
<text x="513.22" y="229.45" font-size="14" text-anchor="start" style="font-family:'Liberation Sans',sans-serif;fill:#000" >0</text>
<path d="M518.43 197.45L517.2 197.45L517.2 189.61Q516.76 190.03 516.04 190.46Q515.31 190.88 514.74 191.09L514.74 189.9Q515.77 189.42 516.55 188.73Q517.32 188.04 517.64 187.39L518.43 187.39Z" fill="#000"/>
<text x="513.22" y="165.45" font-size="14" text-anchor="start" style="font-family:'Liberation Sans',sans-serif;fill:#000" >2</text>
<text x="513.22" y="133.45" font-size="14" text-anchor="start" style="font-family:'Liberation Sans',sans-serif;fill:#000" >3</text>
<text x="513.22" y="101.45" font-size="14" text-anchor="start" style="font-family:'Liberation Sans',sans-serif;fill:#000" >4</text>
<text x="520.31" y="248.5" font-size="14" text-anchor="start" style="font-family:'Liberation Sans',sans-serif;fill:#000" >0</text>
<text x="568.07" y="248.5" font-size="14" text-anchor="start" style="font-family:'Liberation Sans',sans-serif;fill:#000" >0.5</text>
<path d="M632.72 248.5L631.49 248.5L631.49 240.66Q631.05 241.08 630.33 241.51Q629.61 241.93 629.03 242.14L629.03 240.95Q630.06 240.47 630.84 239.78Q631.61 239.09 631.93 238.44L632.72 238.44Z" fill="#000"/>
<text x="577.8" y="271.7" font-size="14" text-anchor="middle" style="font-family:'Liberation Sans',sans-serif;fill:#000" >|cos<tspan font-style="italic">θ</tspan>|</text>
<path d="M565.18 43.8L564.21 43.8L564.21 37.64Q563.86 37.97 563.29 38.31Q562.73 38.64 562.28 38.8L562.28 37.87Q563.09 37.49 563.69 36.95Q564.3 36.4 564.55 35.89L565.18 35.89Z" fill="#000"/>
<text x="567.19" y="43.8" font-size="11" text-anchor="start" style="font-family:'Liberation Sans',sans-serif;fill:#000" >.</text>
<text x="573.31" y="43.8" font-size="11" text-anchor="start" style="font-family:'Liberation Sans',sans-serif;fill:#000" >GeV</text>
<text transform="translate(502.8 152) rotate(-90)" font-size="14" text-anchor="middle" style="font-family:'Liberation Sans',sans-serif;fill:#000">d<tspan font-style="italic" font-size="15">σ</tspan><tspan font-size="10" dy="3">LL</tspan><tspan dy="-3">/dcos</tspan><tspan font-style="italic">θ</tspan> [nb]</text>
<path d="M723.6 228.84L725.6 228.84 M723.6 224.6L726.9 224.6 M723.6 220.36L725.6 220.36 M723.6 216.12L725.6 216.12 M723.6 211.87L725.6 211.87 M723.6 207.63L725.6 207.63 M723.6 203.39L726.9 203.39 M723.6 199.15L725.6 199.15 M723.6 194.91L725.6 194.91 M723.6 190.66L725.6 190.66 M723.6 186.42L725.6 186.42 M723.6 182.18L726.9 182.18 M723.6 177.94L725.6 177.94 M723.6 173.7L725.6 173.7 M723.6 169.45L725.6 169.45 M723.6 165.21L725.6 165.21 M723.6 160.97L726.9 160.97 M723.6 156.73L725.6 156.73 M723.6 152.49L725.6 152.49 M723.6 148.24L725.6 148.24 M723.6 144L725.6 144 M723.6 139.76L726.9 139.76 M723.6 135.52L725.6 135.52 M723.6 131.28L725.6 131.28 M723.6 127.03L725.6 127.03 M723.6 122.79L725.6 122.79 M723.6 118.55L726.9 118.55 M723.6 114.31L725.6 114.31 M723.6 110.07L725.6 110.07 M723.6 105.82L725.6 105.82 M723.6 101.58L725.6 101.58 M723.6 97.34L726.9 97.34 M723.6 93.1L725.6 93.1 M723.6 88.86L725.6 88.86 M723.6 84.61L725.6 84.61 M723.6 80.37L725.6 80.37 M723.6 76.13L726.9 76.13 M723.6 71.89L725.6 71.89 M777.05 232.5L777.05 229.2 M830.5 232.5L830.5 229.2" stroke="#6a6a6a" stroke-width="0.8" fill="none"/>
<rect x="723.6" y="71.3" width="107" height="161.2" fill="none" stroke="#6a6a6a" stroke-width="0.85"/>
<g fill="none" stroke-width="2.0">
<path d="M723.6 224.6L830.5 224.6" stroke="#767676" stroke-width="1.3"/>
<path d="M723.6 160.02 L724.94 160.06 L726.27 160.2 L727.61 160.43 L728.95 160.76 L730.28 161.17 L731.62 161.68 L732.95 162.27 L734.29 162.96 L735.63 163.73 L736.96 164.58 L738.3 165.52 L739.63 166.53 L740.97 167.63 L742.31 168.8 L743.64 170.04 L744.98 171.35 L746.32 172.73 L747.65 174.18 L748.99 175.68 L750.33 177.23 L751.66 178.84 L753 180.5 L754.33 182.2 L755.67 183.93 L757.01 185.7 L758.34 187.5 L759.68 189.32 L761.01 191.16 L762.35 193.01 L763.69 194.86 L765.02 196.72 L766.36 198.56 L767.7 200.4 L769.03 202.21 L770.37 204 L771.71 205.75 L773.04 207.46 L774.38 209.12 L775.71 210.73 L777.05 212.27 L778.39 213.73 L779.72 215.12 L781.06 216.41 L782.39 217.61 L783.73 218.7 L785.07 219.67 L786.4 220.51 L787.74 221.22 L789.08 221.78 L790.41 222.18 L791.75 222.42 L793.09 222.48 L794.42 222.35 L795.76 222.02 L797.09 221.48 L798.43 220.73 L799.77 219.74 L801.1 218.5 L802.44 217.01 L803.78 215.25 L805.11 213.21 L806.45 210.87 L807.78 208.23 L809.12 205.27 L810.46 201.98 L811.79 198.34 L813.13 194.34 L814.47 189.97 L815.8 185.21 L817.14 180.05 L818.47 174.47 L819.81 168.46 L821.15 162.01 L822.48 155.09 L823.82 147.7 L825.15 139.82 L826.49 131.43 L827.83 122.52 L829.16 113.07 L830.5 103.07" stroke="#000000"/>
<path d="M723.6 148.71 L724.94 148.77 L726.27 148.93 L727.61 149.2 L728.95 149.58 L730.28 150.07 L731.62 150.67 L732.95 151.36 L734.29 152.17 L735.63 153.07 L736.96 154.08 L738.3 155.18 L739.63 156.37 L740.97 157.66 L742.31 159.03 L743.64 160.49 L744.98 162.03 L746.32 163.65 L747.65 165.35 L748.99 167.11 L750.33 168.94 L751.66 170.83 L753 172.77 L754.33 174.76 L755.67 176.8 L757.01 178.88 L758.34 180.98 L759.68 183.12 L761.01 185.27 L762.35 187.44 L763.69 189.61 L765.02 191.79 L766.36 193.95 L767.7 196.09 L769.03 198.22 L770.37 200.3 L771.71 202.35 L773.04 204.35 L774.38 206.29 L775.71 208.16 L777.05 209.95 L778.39 211.66 L779.72 213.26 L781.06 214.76 L782.39 216.15 L783.73 217.4 L785.07 218.51 L786.4 219.48 L787.74 220.28 L789.08 220.9 L790.41 221.34 L791.75 221.59 L793.09 221.62 L794.42 221.43 L795.76 221 L797.09 220.32 L798.43 219.38 L799.77 218.17 L801.1 216.66 L802.44 214.85 L803.78 212.72 L805.11 210.26 L806.45 207.45 L807.78 204.28 L809.12 200.73 L810.46 196.78 L811.79 192.42 L813.13 187.64 L814.47 182.41 L815.8 176.73 L817.14 170.57 L818.47 163.91 L819.81 156.75 L821.15 149.05 L822.48 140.82 L823.82 132.01 L825.15 122.63 L826.49 112.64 L827.83 102.03 L829.16 90.79 L830.5 78.89" stroke="#0000ff"/>
<path d="M723.6 153.8 L724.94 153.85 L726.27 154.01 L727.61 154.26 L728.95 154.62 L730.28 155.07 L731.62 155.63 L732.95 156.29 L734.29 157.04 L735.63 157.88 L736.96 158.82 L738.3 159.86 L739.63 160.97 L740.97 162.18 L742.31 163.47 L743.64 164.83 L744.98 166.28 L746.32 167.8 L747.65 169.38 L748.99 171.03 L750.33 172.74 L751.66 174.51 L753 176.33 L754.33 178.2 L755.67 180.11 L757.01 182.05 L758.34 184.02 L759.68 186.02 L761.01 188.04 L762.35 190.07 L763.69 192.1 L765.02 194.13 L766.36 196.16 L767.7 198.17 L769.03 200.15 L770.37 202.11 L771.71 204.03 L773.04 205.9 L774.38 207.71 L775.71 209.46 L777.05 211.14 L778.39 212.73 L779.72 214.24 L781.06 215.64 L782.39 216.93 L783.73 218.11 L785.07 219.15 L786.4 220.05 L787.74 220.79 L789.08 221.38 L790.41 221.79 L791.75 222.01 L793.09 222.04 L794.42 221.86 L795.76 221.46 L797.09 220.82 L798.43 219.94 L799.77 218.8 L801.1 217.38 L802.44 215.68 L803.78 213.69 L805.11 211.38 L806.45 208.74 L807.78 205.76 L809.12 202.43 L810.46 198.73 L811.79 194.65 L813.13 190.16 L814.47 185.26 L815.8 179.93 L817.14 174.15 L818.47 167.92 L819.81 161.2 L821.15 153.99 L822.48 146.27 L823.82 138.01 L825.15 129.22 L826.49 119.86 L827.83 109.92 L829.16 99.38 L830.5 88.22" stroke="#ff0000"/>
<path d="M723.6 163.6 L724.94 163.64 L726.27 163.78 L727.61 164 L728.95 164.31 L730.28 164.7 L731.62 165.18 L732.95 165.75 L734.29 166.4 L735.63 167.13 L736.96 167.94 L738.3 168.83 L739.63 169.8 L740.97 170.84 L742.31 171.96 L743.64 173.14 L744.98 174.39 L746.32 175.7 L747.65 177.07 L748.99 178.5 L750.33 179.98 L751.66 181.51 L753 183.09 L754.33 184.7 L755.67 186.36 L757.01 188.04 L758.34 189.75 L759.68 191.48 L761.01 193.23 L762.35 194.98 L763.69 196.75 L765.02 198.51 L766.36 200.26 L767.7 202.01 L769.03 203.73 L770.37 205.43 L771.71 207.09 L773.04 208.72 L774.38 210.29 L775.71 211.82 L777.05 213.28 L778.39 214.67 L779.72 215.98 L781.06 217.21 L782.39 218.34 L783.73 219.36 L785.07 220.28 L786.4 221.07 L787.74 221.74 L789.08 222.26 L790.41 222.64 L791.75 222.85 L793.09 222.9 L794.42 222.76 L795.76 222.44 L797.09 221.92 L798.43 221.18 L799.77 220.23 L801.1 219.03 L802.44 217.6 L803.78 215.91 L805.11 213.95 L806.45 211.7 L807.78 209.17 L809.12 206.33 L810.46 203.18 L811.79 199.69 L813.13 195.86 L814.47 191.68 L815.8 187.12 L817.14 182.18 L818.47 176.85 L819.81 171.1 L821.15 164.93 L822.48 158.32 L823.82 151.25 L825.15 143.71 L826.49 135.7 L827.83 127.18 L829.16 118.14 L830.5 108.58" stroke="#00aa00"/>
</g>
<text x="711.62" y="229.6" font-size="14" text-anchor="start" style="font-family:'Liberation Sans',sans-serif;fill:#000" >0</text>
<path d="M716.83 208.39L715.6 208.39L715.6 200.55Q715.16 200.97 714.44 201.4Q713.71 201.82 713.14 202.03L713.14 200.84Q714.17 200.36 714.95 199.67Q715.72 198.98 716.04 198.33L716.83 198.33Z" fill="#000"/>
<text x="711.62" y="187.18" font-size="14" text-anchor="start" style="font-family:'Liberation Sans',sans-serif;fill:#000" >2</text>
<text x="711.62" y="165.97" font-size="14" text-anchor="start" style="font-family:'Liberation Sans',sans-serif;fill:#000" >3</text>
<text x="711.62" y="144.76" font-size="14" text-anchor="start" style="font-family:'Liberation Sans',sans-serif;fill:#000" >4</text>
<text x="711.62" y="123.55" font-size="14" text-anchor="start" style="font-family:'Liberation Sans',sans-serif;fill:#000" >5</text>
<text x="711.62" y="102.34" font-size="14" text-anchor="start" style="font-family:'Liberation Sans',sans-serif;fill:#000" >6</text>
<text x="711.62" y="81.13" font-size="14" text-anchor="start" style="font-family:'Liberation Sans',sans-serif;fill:#000" >7</text>
<text x="719.71" y="248.5" font-size="14" text-anchor="start" style="font-family:'Liberation Sans',sans-serif;fill:#000" >0</text>
<text x="767.32" y="248.5" font-size="14" text-anchor="start" style="font-family:'Liberation Sans',sans-serif;fill:#000" >0.5</text>
<path d="M831.82 248.5L830.59 248.5L830.59 240.66Q830.15 241.08 829.43 241.51Q828.71 241.93 828.13 242.14L828.13 240.95Q829.16 240.47 829.94 239.78Q830.71 239.09 831.03 238.44L831.82 238.44Z" fill="#000"/>
<text x="777" y="271.7" font-size="14" text-anchor="middle" style="font-family:'Liberation Sans',sans-serif;fill:#000" >|cos<tspan font-style="italic">θ</tspan>|</text>
<path d="M758.16 43.8L757.19 43.8L757.19 37.64Q756.84 37.97 756.28 38.31Q755.71 38.64 755.26 38.8L755.26 37.87Q756.07 37.49 756.68 36.95Q757.29 36.4 757.54 35.89L758.16 35.89Z" fill="#000"/>
<text x="760.18" y="43.8" font-size="11" text-anchor="start" style="font-family:'Liberation Sans',sans-serif;fill:#000" >.3</text>
<path d="M773.45 43.8L772.48 43.8L772.48 37.64Q772.13 37.97 771.57 38.31Q771 38.64 770.55 38.8L770.55 37.87Q771.36 37.49 771.97 36.95Q772.58 36.4 772.83 35.89L773.45 35.89Z" fill="#000"/>
<text x="778.53" y="43.8" font-size="11" text-anchor="start" style="font-family:'Liberation Sans',sans-serif;fill:#000" >GeV</text>
<text transform="translate(702.2 152) rotate(-90)" font-size="14" text-anchor="middle" style="font-family:'Liberation Sans',sans-serif;fill:#000">d<tspan font-style="italic" font-size="15">σ</tspan><tspan font-size="10" dy="3">LL</tspan><tspan dy="-3">/dcos</tspan><tspan font-style="italic">θ</tspan> [nb]</text>
</svg>
</body></html>
